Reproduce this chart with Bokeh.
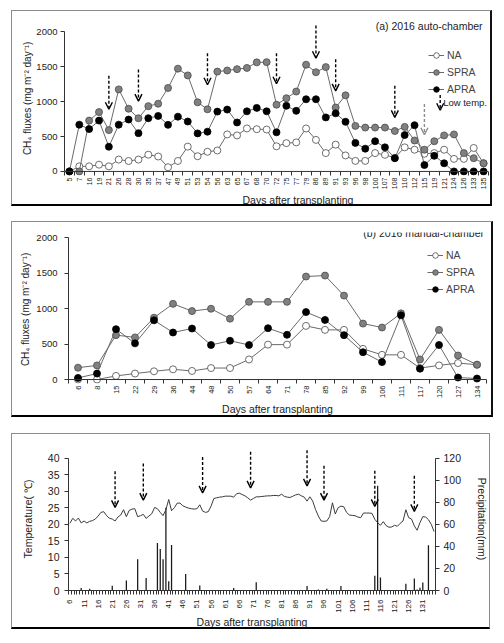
from math import pi
from bokeh.plotting import figure
from bokeh.models import (FixedTicker, Legend, LegendItem, Label, Arrow, OpenHead,
                          LinearAxis, Range1d, Span, Title)
from bokeh.embed import file_html
from bokeh.resources import INLINE

FONT = "Liberation Sans"

# ---------------- data: (a) 2016 auto-chamber ----------------
days_a = [5, 7, 16, 19, 21, 26, 28, 30, 35, 37, 47, 49, 51, 53, 54, 56, 63, 65, 67, 68,
          70, 72, 75, 77, 79, 86, 89, 91, 93, 96, 98, 100, 107, 108, 110, 112, 115, 119,
          121, 124, 126, 133, 135]
na_a = [0, 73, 73, 97, 73, 170, 150, 170, 240, 214, 60, 150, 355, 218, 282, 300, 530, 516,
        616, 605, 600, 360, 405, 416, 615, 452, 263, 384, 229, 151, 151, 263, 238, 195,
        345, 311, 253, 263, 311, 180, 180, 336, 117]
spra_a = [0, 0, 728, 850, 592, 1175, 898, 762, 935, 970, 1195, 1472, 1375, 990, 890, 1430,
          1445, 1465, 1482, 1562, 1565, 956, 1048, 1144, 1528, 1421, 1494, 915, 1090, 652,
          628, 628, 628, 579, 638, 443, 311, 433, 516, 530, 263, 190, 117]
apra_a = [0, 670, 607, 728, 354, 670, 743, 548, 762, 795, 667, 784, 715, 545, 569, 857, 886,
          701, 861, 910, 861, 560, 940, 868, 1034, 1034, 774, 832, 711, 409, 326, 433, 345,
          190, 521, 662, 92, 224, 117, 0, 0, 0, 0]
arrow_days_a = [21, 30, 54, 72, 86, 91, 108, 115]
arrow_top_a = [1372, 1460, 1694, 1694, 2088, 1606, 1226, 964]
arrow_tip_a = [890, 1007, 1241, 1256, 1620, 1153, 774, 526]
flux_ticks = [0, 500, 1000, 1500, 2000]

# ---------------- data: (b) 2016 manual-chamber ----------------
days_b = [6, 8, 15, 22, 29, 36, 44, 48, 50, 57, 64, 71, 78, 85, 92, 99, 106, 111, 117, 120,
          127, 134]
na_b = [0, 0, 51, 84, 116, 144, 121, 162, 162, 283, 492, 492, 756, 700, 700, 432, 348, 348,
        162, 199, 232, 209]
spra_b = [167, 199, 626, 594, 872, 1067, 965, 998, 858, 1095, 1095, 1095, 1452, 1466, 1183,
          789, 733, 933, 283, 700, 339, 209]
apra_b = [23, 84, 710, 510, 835, 663, 719, 487, 547, 487, 724, 631, 951, 840, 626, 385, 246,
          905, 153, 487, 28, 14]

# ---------------- data: (c) temperature & precipitation ----------------
temp_days = list(range(6, 136))
temp_c = [20.3, 21.8, 21.0, 21.9, 20.4, 21.0, 20.4, 20.9, 21.1, 21.6,
          22.5, 23.6, 23.8, 22.6, 21.8, 21.6, 21.0, 22.2, 22.8, 24.4,
          22.3, 24.2, 24.6, 24.7, 22.3, 22.6, 23.0, 21.8, 22.5, 23.2,
          25.1, 24.7, 23.6, 22.6, 24.4, 27.5, 24.1, 25.0, 26.4, 26.4,
          25.6, 25.2, 24.9, 24.7, 24.6, 24.7, 25.9, 24.0, 23.6, 23.8,
          25.5, 27.8, 28.0, 28.2, 28.3, 28.5, 28.5, 28.5, 28.2, 29.2,
          29.4, 29.0, 28.6, 28.0, 27.3, 27.8, 28.3, 28.3, 28.4, 28.5,
          28.6, 28.6, 28.7, 28.7, 28.6, 29.1, 28.4, 28.2, 28.1, 28.5,
          28.9, 29.1, 28.6, 28.2, 27.0, 28.3, 27.0, 24.5, 22.5, 21.0,
          20.9, 21.0, 22.3, 26.5, 23.1, 25.0, 25.5, 25.3, 23.6, 22.8,
          22.7, 22.6, 22.2, 22.0, 23.4, 23.4, 23.4, 23.3, 21.5, 20.5,
          19.7, 20.8, 19.6, 19.1, 19.2, 19.7, 19.4, 20.3, 21.0, 24.4,
          22.0, 21.6, 19.5, 18.2, 20.5, 22.3, 22.2, 21.4, 20.0, 17.8]
precip_days = [10, 13, 21, 26, 30, 33, 37, 38, 39, 40, 41, 42, 47, 52, 64, 72, 90, 94, 97,
               102, 114, 115, 116, 125, 128, 129, 130, 131, 133]
precip_mm = [2.2, 1.5, 4.3, 9.0, 28.4, 11.4, 43.0, 37.6, 28.4, 75.0, 8.3, 41.3, 15.0, 4.6,
             2.2, 7.5, 4.0, 1.0, 1.6, 4.0, 13.4, 95.0, 11.8, 6.2, 10.9, 1.0, 2.5, 7.2, 41.0]
arrow_days_c = [22, 32, 53, 70, 90, 96, 114, 128]
arrow_top_c = [36.0, 38.4, 40.3, 41.9, 42.4, 37.7, 36.2, 34.7]
arrow_tip_c = [25.1, 27.3, 29.5, 31.0, 31.6, 27.3, 25.4, 23.9]
temp_ticks = [0, 5, 10, 15, 20, 25, 30, 35, 40]
precip_ticks = [0, 20, 40, 60, 80, 100, 120]
label_days_c = list(range(6, 135, 5))

LINE = "#6a6a6a"
EDGE = "#4a4a4a"
AX = "#333333"
TXT = "#222222"


def base_fig(w, h, xr, yr, left, right, top, bottom, mtop, dark_right):
    p = figure(width=w, height=h, x_range=xr, y_range=yr, output_backend="svg",
               toolbar_location=None, min_border_left=left, min_border_right=right,
               min_border_top=top, min_border_bottom=bottom)
    p.grid.visible = False
    p.outline_line_color = None
    p.background_fill_color = "white"
    p.border_fill_color = "white"
    p.styles = {
        "box-sizing": "content-box",
        "margin-left": "11px",
        "margin-top": f"{mtop}px",
        "border-top": "1px solid #8c8c8c",
        "border-left": "1px solid #8c8c8c",
        "border-right": "2px solid #111111" if dark_right else "1px solid #8c8c8c",
        "border-bottom": "2px solid #000000",
    }
    return p


def style_axis(ax, size, standoff):
    ax.axis_line_color = AX
    ax.major_tick_line_color = AX
    ax.minor_tick_line_color = AX
    ax.major_label_text_font = FONT
    ax.major_label_text_font_size = size
    ax.major_label_text_color = TXT
    ax.major_label_standoff = standoff
    ax.axis_label_text_font = FONT
    ax.axis_label_text_font_style = "normal"
    ax.axis_label_text_font_size = "10.5px"
    ax.axis_label_text_color = TXT


def flux_series(p, xs, na, spra, apra, loc):
    items = []
    for name, ys, fill in (("NA", na, "white"), ("SPRA", spra, "#808080"),
                           ("APRA", apra, "black")):
        r1 = p.line(xs, ys, line_color=LINE, line_width=1)
        r2 = p.scatter(xs, ys, marker="circle", size=7, fill_color=fill,
                       line_color=EDGE if fill != "black" else "black", line_width=0.8)
        items.append(LegendItem(label=name, renderers=[r1, r2]))
    lg = Legend(items=items, location=loc, border_line_alpha=0, background_fill_alpha=0,
                label_text_font=FONT, label_text_font_size="10.5px", glyph_width=16,
                glyph_height=14, label_height=14, spacing=3, padding=0, margin=0,
                label_standoff=3)
    p.add_layout(lg)


def cat_xaxis(p, days, lab_size, standoff):
    ax = p.xaxis[0]
    n = len(days)
    ax.ticker = FixedTicker(ticks=list(range(n)), minor_ticks=[i - 0.5 for i in range(n + 1)])
    ax.major_label_overrides = {i: str(d) for i, d in enumerate(days)}
    ax.major_label_orientation = pi / 2
    ax.major_tick_out = 0
    ax.major_tick_in = 0
    ax.minor_tick_out = 0
    ax.minor_tick_in = 4
    style_axis(ax, lab_size, standoff)
    ax.axis_line_color = None
    p.add_layout(Span(location=0, dimension="width", line_color=AX, line_width=1))
    return ax


def flux_yaxis(p, lab_standoff, label_standoff):
    ay = p.yaxis[0]
    ay.ticker = FixedTicker(ticks=flux_ticks, minor_ticks=[])
    ay.bounds = (0, 2000)
    ay.major_tick_out = 4
    ay.major_tick_in = 0
    style_axis(ay, "9.5px", lab_standoff)
    ay.axis_label = "CH\u2084 fluxes  (mg m\u207b\u00b2 day\u207b\u00b9)"
    ay.axis_label_text_font_size = "10px"
    ay.axis_label_standoff = label_standoff
    return ay


def down_arrow(p, x, y0, y1, col="black"):
    p.add_layout(Arrow(x_start=x, y_start=y0, x_end=x, y_end=y1, line_color=col,
                       line_width=1.4, line_dash="3 2",
                       end=OpenHead(size=7, line_color=col, line_width=1.4)))


# ================= panel (a) =================
pa = base_fig(478, 193, Range1d(-0.5, len(days_a) - 0.5), Range1d(-58, 2190),
              52, 5, 7, 32, 10, True)
cat_xaxis(pa, days_a, "7px", 2)
flux_yaxis(pa, 3, 0)
flux_series(pa, list(range(len(days_a))), na_a, spra_a, apra_a, (364, 79))
for d, t0, t1 in zip(arrow_days_a, arrow_top_a, arrow_tip_a):
    down_arrow(pa, days_a.index(d), t0, t1, "#8c8c8c" if d == 115 else "black")
down_arrow(pa, 37.6, 1095, 876)
pa.add_layout(Label(x=37.9, y=990, text="Low temp.", text_font=FONT,
                    text_font_size="9.5px", text_baseline="middle", text_color=TXT))
pa.add_layout(Label(x=41.9, y=2088, text="(a) 2016 auto-chamber", text_font=FONT,
                    text_font_size="10.5px", text_align="right", text_baseline="middle",
                    text_color=TXT))
pa.add_layout(Title(text="Days after transplanting", align="left", offset=178,
                    vertical_align="middle", standoff=0, text_font=FONT,
                    text_font_size="10.5px", text_font_style="normal", text_color=TXT),
              "below")

# ================= panel (b) =================
pb = base_fig(479, 193, Range1d(-0.5, len(days_b) - 0.5), Range1d(-56, 2073),
              56, 8, 10, 30, 15, True)
axb = cat_xaxis(pb, days_b, "7.5px", 2)
axb.axis_label = "Days after transplanting"
axb.axis_label_standoff = 2
flux_yaxis(pb, 7, 2)
flux_series(pb, list(range(len(days_b))), na_b, spra_b, apra_b, (359, 87))
pb.add_layout(Label(x=21.37, y=2060, text="(b) 2016 manual-chamber", text_font=FONT,
                    text_font_size="10.5px", text_align="right", text_baseline="middle",
                    text_color=TXT))

# ================= panel (c) =================
pc = base_fig(477, 193, Range1d(5.5, 135.5), Range1d(0, 43.2), 56, 52, 13, 40, 16, False)
pc.extra_y_ranges = {"precip": Range1d(0, 129.6)}
pc.vbar(x=precip_days, top=precip_mm, width=0.45, y_range_name="precip",
        fill_color="#1a1a1a", line_color=None)
pc.line(temp_days, temp_c, line_color="#3c3c3c", line_width=1)
axc = pc.xaxis[0]
axc.ticker = FixedTicker(ticks=label_days_c,
                         minor_ticks=[d - 0.5 for d in temp_days] + [temp_days[-1] + 0.5])
axc.major_label_orientation = pi / 2
axc.major_tick_out = 0
axc.major_tick_in = 0
axc.minor_tick_out = 4
axc.minor_tick_in = 0
style_axis(axc, "8px", 5)
axc.axis_label = "Days after transplanting"
axc.axis_label_standoff = 0
ayc = pc.yaxis[0]
ayc.ticker = FixedTicker(ticks=temp_ticks, minor_ticks=[])
ayc.bounds = (0, 40)
ayc.major_tick_out = 4
ayc.major_tick_in = 0
style_axis(ayc, "10.5px", 5)
ayc.axis_label = "Temperature( \u2103)"
ayc.axis_label_standoff = 11
ayr = LinearAxis(y_range_name="precip", ticker=FixedTicker(ticks=precip_ticks, minor_ticks=[]),
                 bounds=(0, 120), major_tick_out=4, major_tick_in=0)
style_axis(ayr, "10.5px", 4)
ayr.axis_label = "Precipitation(mm)"
ayr.axis_label_standoff = 12
pc.add_layout(ayr, "right")
for d, t0, t1 in zip(arrow_days_c, arrow_top_c, arrow_tip_c):
    down_arrow(pc, d, t0, t1)
pc.add_layout(Label(x=152, y=44.2, text="(c)", text_font=FONT, text_font_size="10.5px",
                    text_align="right", text_baseline="middle", text_color=TXT))

open("out.html", "w").write(file_html([pa, pb, pc], INLINE))
